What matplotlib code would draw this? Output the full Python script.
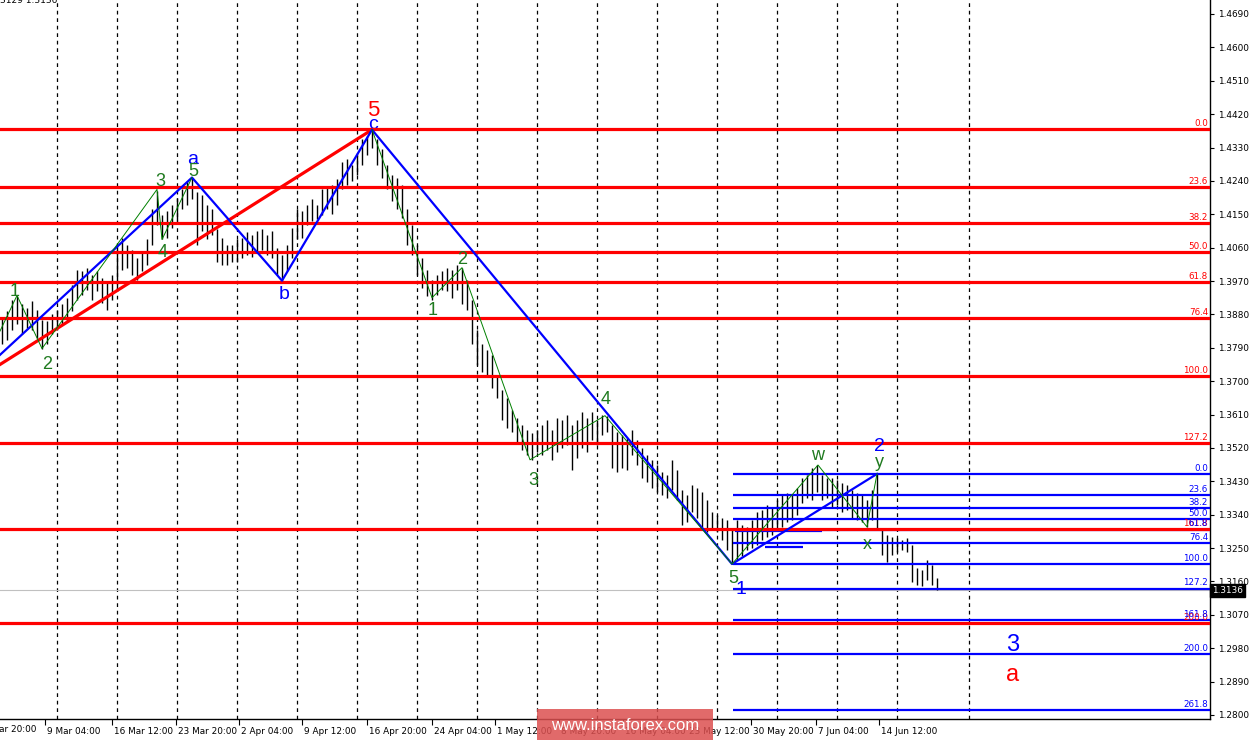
import numpy as np
import matplotlib.pyplot as plt
import matplotlib.transforms as mtransforms
from matplotlib.patches import Rectangle

highs = [1.3871, 1.3888, 1.3920, 1.3931, 1.3907, 1.3898, 1.3915, 1.3893, 1.3866, 1.3861,
         1.3880, 1.3893, 1.3907, 1.3925, 1.3960, 1.4001, 1.3996, 1.4006, 1.3987, 1.3996,
         1.3979, 1.3966, 1.3987, 1.4068, 1.4087, 1.4068, 1.4055, 1.4033, 1.4050, 1.4082,
         1.4163, 1.4212, 1.4149, 1.4158, 1.4176, 1.4195, 1.4217, 1.4239, 1.4249, 1.4209,
         1.4203, 1.4176, 1.4163, 1.4109, 1.4087, 1.4068, 1.4068, 1.4082, 1.4087, 1.4101,
         1.4093, 1.4104, 1.4109, 1.4095, 1.4104, 1.4060, 1.4041, 1.4068, 1.4114, 1.4163,
         1.4158, 1.4176, 1.4190, 1.4176, 1.4217, 1.4222, 1.4230, 1.4244, 1.4290, 1.4298,
         1.4284, 1.4311, 1.4352, 1.4360, 1.4378, 1.4352, 1.4325, 1.4284, 1.4257, 1.4249,
         1.4230, 1.4163, 1.4122, 1.4068, 1.4033, 1.4001, 1.3974, 1.3987, 1.3996, 1.4006,
         1.4001, 1.4012, 1.4006, 1.3974, 1.3920, 1.3839, 1.3799, 1.3785, 1.3771, 1.3717,
         1.3677, 1.3655, 1.3623, 1.3601, 1.3582, 1.3569, 1.3561, 1.3569, 1.3582, 1.3596,
         1.3569, 1.3601, 1.3596, 1.3609, 1.3582, 1.3596, 1.3618, 1.3601, 1.3618, 1.3596,
         1.3609, 1.3607, 1.3582, 1.3564, 1.3555, 1.3547, 1.3569, 1.3542, 1.3520, 1.3501,
         1.3488, 1.3474, 1.3456, 1.3447, 1.3488, 1.3461, 1.3407, 1.3393, 1.3420, 1.3412,
         1.3402, 1.3380, 1.3348, 1.3339, 1.3331, 1.3326, 1.3304, 1.3326, 1.3312, 1.3307,
         1.3326, 1.3348, 1.3353, 1.3366, 1.3358, 1.3380, 1.3393, 1.3399, 1.3393, 1.3412,
         1.3439, 1.3447, 1.3466, 1.3474, 1.3447, 1.3439, 1.3439, 1.3434, 1.3426, 1.3420,
         1.3407, 1.3399, 1.3393, 1.3380, 1.3407, 1.3450, 1.3304, 1.3285, 1.3280, 1.3277,
         1.3272, 1.3277, 1.3258, 1.3196, 1.3191, 1.3218, 1.3205, 1.3169]
lows = [1.3799, 1.3812, 1.3839, 1.3853, 1.3826, 1.3844, 1.3839, 1.3817, 1.3788, 1.3799,
        1.3826, 1.3839, 1.3853, 1.3861, 1.3888, 1.3920, 1.3933, 1.3947, 1.3920, 1.3942,
        1.3912, 1.3893, 1.3920, 1.3942, 1.4001, 1.4006, 1.3987, 1.3974, 1.3996, 1.4014,
        1.4068, 1.4122, 1.4082, 1.4087, 1.4114, 1.4131, 1.4163, 1.4176, 1.4190, 1.4068,
        1.4104, 1.4082, 1.4095, 1.4022, 1.4014, 1.4014, 1.4020, 1.4022, 1.4033, 1.4041,
        1.4036, 1.4050, 1.4055, 1.4041, 1.4033, 1.3987, 1.3971, 1.3996, 1.4033, 1.4082,
        1.4087, 1.4122, 1.4131, 1.4136, 1.4149, 1.4163, 1.4152, 1.4176, 1.4217, 1.4230,
        1.4239, 1.4257, 1.4284, 1.4311, 1.4330, 1.4284, 1.4249, 1.4217, 1.4185, 1.4163,
        1.4141, 1.4068, 1.4041, 1.3987, 1.3952, 1.3931, 1.3920, 1.3933, 1.3947, 1.3942,
        1.3925, 1.3947, 1.3907, 1.3893, 1.3799, 1.3744, 1.3726, 1.3717, 1.3682, 1.3655,
        1.3596, 1.3574, 1.3564, 1.3537, 1.3515, 1.3501, 1.3488, 1.3510, 1.3501, 1.3515,
        1.3488, 1.3510, 1.3520, 1.3528, 1.3461, 1.3493, 1.3520, 1.3510, 1.3542, 1.3528,
        1.3555, 1.3564, 1.3466, 1.3456, 1.3466, 1.3461, 1.3501, 1.3474, 1.3439, 1.3429,
        1.3412, 1.3402, 1.3393, 1.3385, 1.3407, 1.3380, 1.3312, 1.3321, 1.3348, 1.3331,
        1.3304, 1.3294, 1.3299, 1.3294, 1.3272, 1.3245, 1.3207, 1.3218, 1.3229, 1.3245,
        1.3250, 1.3258, 1.3272, 1.3280, 1.3285, 1.3299, 1.3307, 1.3321, 1.3326, 1.3339,
        1.3372, 1.3385, 1.3380, 1.3402, 1.3380, 1.3385, 1.3358, 1.3366, 1.3348, 1.3353,
        1.3331, 1.3326, 1.3321, 1.3307, 1.3326, 1.3299, 1.3231, 1.3212, 1.3231, 1.3240,
        1.3245, 1.3240, 1.3159, 1.3150, 1.3148, 1.3164, 1.3150, 1.3136]
last_price = 1.3136

time_labels = ['1 Mar 20:00', '9 Mar 04:00', '16 Mar 12:00', '23 Mar 20:00', '2 Apr 04:00',
               '9 Apr 12:00', '16 Apr 20:00', '24 Apr 04:00', '1 May 12:00', '8 May 20:00',
               '16 May 04:00', '23 May 12:00', '30 May 20:00', '7 Jun 04:00', '14 Jun 12:00']
time_pos = [-4.2, 8.6, 22, 34.8, 47.4, 60, 73, 86, 98.6, 111.4, 124.2, 137, 149.8, 162.8, 175.4]
grid_pos = [11, 23, 35, 47, 59, 71, 83, 95, 107, 119, 131, 143, 155, 167, 179, 193.4]
price_ticks = [1.4690, 1.4600, 1.4510, 1.4420, 1.4330, 1.4240, 1.4150, 1.4060, 1.3970, 1.3880,
               1.3790, 1.3700, 1.3610, 1.3520, 1.3430, 1.3340, 1.3250, 1.3160, 1.3070, 1.2980,
               1.2890, 1.2800]

# fibonacci grids
red_fib_0, red_fib_100 = 1.4380, 1.3714
red_fib_levels = [0.0, 23.6, 38.2, 50.0, 61.8, 76.4, 100.0, 127.2, 161.8, 200.0]
blue_fib_0, blue_fib_100 = 1.3450, 1.3207
blue_fib_levels = [0.0, 23.6, 38.2, 50.0, 61.8, 76.4, 100.0, 127.2, 161.8, 200.0, 261.8]
blue_fib_start = 146.2

# wave lines
red_trend_x = [-0.4, 74]
red_trend_y = [1.3745, 1.4378]
blue_wave_x = [-0.4, 38, 56, 74, 146, 175]
blue_wave_y = [1.3771, 1.4249, 1.3971, 1.4378, 1.3207, 1.3450]
green_left_x = [-0.4, 3, 8, 31, 32, 38]
green_left_y = [1.3835, 1.3931, 1.3788, 1.4217, 1.4082, 1.4249]
green_right_x = [74, 86, 92, 105.6, 120.6, 146, 163.2, 173, 175]
green_right_y = [1.4378, 1.3925, 1.4006, 1.3488, 1.3607, 1.3207, 1.3474, 1.3307, 1.3450]
blue_stub_x = [[146.6, 164], [152.6, 160.2]]
blue_stub_y = [1.3296, 1.3253]

# wave labels: (text, x, y, colour, size)
wave_labels = [
    ('5', 74.2, 1.4430, 'red', 16), ('c', 74.2, 1.4392, 'blue', 14),
    ('a', 38.2, 1.4298, 'blue', 14), ('b', 56.4, 1.3934, 'blue', 14),
    ('1', 147.8, 1.3137, 'blue', 14), ('2', 175.4, 1.3523, 'blue', 14),
    ('3', 202.2, 1.2989, 'blue', 17), ('a', 202.2, 1.2908, 'red', 17),
    ('1', 2.6, 1.3942, 'green', 13), ('2', 9, 1.3745, 'green', 13),
    ('3', 31.6, 1.4239, 'green', 13), ('4', 32.2, 1.4047, 'green', 13),
    ('5', 38.2, 1.4266, 'green', 13), ('1', 86.2, 1.3890, 'green', 13),
    ('2', 92, 1.4028, 'green', 13), ('3', 106.2, 1.3431, 'green', 13),
    ('4', 120.8, 1.3650, 'green', 13), ('5', 146.2, 1.3169, 'green', 13),
    ('w', 163.2, 1.3499, 'green', 13), ('x', 173, 1.3259, 'green', 13),
    ('y', 175.4, 1.3480, 'green', 13),
]

fig = plt.figure(figsize=(12.5, 7.4), dpi=100)
ax = fig.add_axes([0, 21 / 740, 1210 / 1250, 719 / 740])

xs = np.arange(len(highs))
ax.vlines(xs, lows, highs, color='black', lw=1.0, zorder=2)

for g in grid_pos:
    ax.axvline(g, color='black', lw=0.9, ls=(0, (3, 3)), zorder=1)
ax.axhline(last_price, color='#c0c0c0', lw=0.8, zorder=1)

rng = red_fib_0 - red_fib_100
for lv in red_fib_levels:
    p = red_fib_0 - rng * lv / 100
    ax.axhline(p, color='#ff0000', lw=2.3, zorder=4)
    ax.text(241.2, p + 0.0003, f'{lv:.1f}', color='#ff0000', fontsize=6.3,
            ha='right', va='bottom', zorder=6)

rng = blue_fib_0 - blue_fib_100
for lv in blue_fib_levels:
    p = blue_fib_0 - rng * lv / 100
    ax.hlines(p, blue_fib_start, 241.6, color='#0000ff', lw=1.6, zorder=3)
    ax.text(241.2, p + 0.0003, f'{lv:.1f}', color='#0000ff', fontsize=6.3,
            ha='right', va='bottom', zorder=6)

for sx, sy in zip(blue_stub_x, blue_stub_y):
    ax.hlines(sy, sx[0], sx[1], color='#0000ff', lw=1.6, zorder=3)

ax.plot(red_trend_x, red_trend_y, color='#ff0000', lw=2.3, zorder=4)
ax.plot(blue_wave_x, blue_wave_y, color='#0000ff', lw=1.6, zorder=5)
ax.plot(green_left_x, green_left_y, color='#008000', lw=0.7, zorder=5)
ax.plot(green_right_x, green_right_y, color='#008000', lw=0.7, zorder=5)

colors = {'red': '#ff0000', 'blue': '#0000ff', 'green': '#1f7a1f'}
for txt, x, y, c, s in wave_labels:
    ax.text(x, y, txt, color=colors[c], fontsize=s, family='Liberation Sans',
            ha='center', va='center', zorder=3.5 if txt == 'c' else 6)

# axes styling
for side in ['left', 'top']:
    ax.spines[side].set_visible(False)
for side in ['right', 'bottom']:
    ax.spines[side].set_linewidth(1)
ax.yaxis.tick_right()
ax.set_yticks(price_ticks, [f'{t:.4f}' for t in price_ticks])
ax.set_xticks(time_pos[1:], time_labels[1:], ha='left')
ax.tick_params(axis='y', length=3, width=0.8, pad=3, labelsize=6.4)
ax.tick_params(axis='x', length=4, width=0.8, pad=2, labelsize=6.4)
shift = mtransforms.ScaledTranslation(2 / 100, 0, fig.dpi_scale_trans)
for lab in ax.get_xticklabels():
    lab.set_transform(lab.get_transform() + shift)
ax.set_xlim(-0.4, 241.6)
ax.set_ylim(1.27892, 1.47277)

# first date label sits left of the window and is cut by the edge
xtrans = mtransforms.blended_transform_factory(ax.transData, ax.transAxes)
ax.text(time_pos[0], -0.0085, time_labels[0], transform=xtrans + shift, fontsize=6.4,
        ha='left', va='top', clip_on=False)

trans = mtransforms.blended_transform_factory(ax.transAxes, ax.transData)
ax.text(1.002, last_price, '1.3136', transform=trans, color='white', fontsize=6.4,
        ha='left', va='center', clip_on=False, zorder=7,
        bbox=dict(facecolor='black', edgecolor='black', pad=1.5))

fig.text(0.0, 0.999, '3129 1.3136', fontsize=6.5, ha='left', va='center')

fig.patches.append(Rectangle((537 / 1250, 0), 176 / 1250, 31 / 740, transform=fig.transFigure,
                             facecolor='#dc5050', alpha=0.85, edgecolor='none', zorder=10))
fig.text(625 / 1250, 15 / 740, 'www.instaforex.com', color='white', fontsize=12,
         family='Liberation Sans', ha='center', va='center', zorder=11)

fig.savefig('out.png', dpi=100)
